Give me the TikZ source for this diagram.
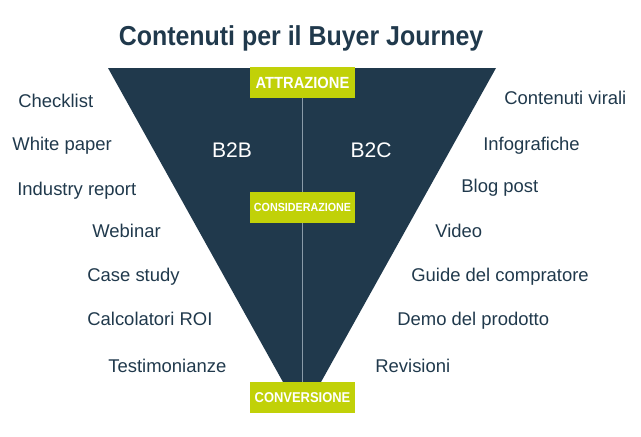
\documentclass[tikz,border=0pt]{standalone}
\usepackage{fontspec}
\setmainfont[BoldFeatures={FakeStretch=0.91}]{Liberation Sans}
\definecolor{funnelblue}{HTML}{20394C}
\definecolor{stagegreen}{HTML}{C1D108}
\definecolor{midline}{HTML}{8A9BA8}
\tikzset{
  stagebox/.style={fill=stagegreen,text=white,font=\bfseries\fontsize{#1}{#1}\selectfont,
    minimum width=2.1cm,minimum height=0.62cm,inner sep=0pt},
  itemtext/.style={text=funnelblue,anchor=base west,inner sep=0pt,font=\fontsize{10.5}{12}\selectfont},
  sidetext/.style={text=white,inner sep=0pt,font=\fontsize{12}{14}\selectfont},
}
\begin{document}
\begin{tikzpicture}[x=0.02cm,y=-0.02cm]
    \useasboundingbox (0,0) rectangle (641,436);
    \fill[funnelblue] (108,68) -- (496,68) -- (311,400) -- (293,400) -- cycle;
    \node[font=\bfseries\fontsize{15.6}{18}\selectfont,text=funnelblue,inner sep=0pt] (title) at (301,38) {Contenuti per il Buyer Journey};
    \node[stagebox=9.2] (attrazione) at (302.5,82.5) {ATTRAZIONE};
    \node[stagebox=6.7] (considerazione) at (302.5,207.5) {CONSIDERAZIONE};
    \node[stagebox=8.1] (conversione) at (302.5,397.5) {CONVERSIONE};
    \draw[midline,line width=0.8pt] (attrazione) -- (considerazione);
    \draw[midline,line width=0.8pt] (considerazione) -- (conversione);
    \node[sidetext] (btob) at (232,150) {B2B};
    \node[sidetext] (btoc) at (371,150) {B2C};
    % left column
    \node[itemtext] (checklist) at (18,107) {Checklist};
    \node[itemtext] (whitepaper) at (12,150) {White paper};
    \node[itemtext] (report) at (17,195) {Industry report};
    \node[itemtext] (webinar) at (92,237) {Webinar};
    \node[itemtext] (casestudy) at (87,281) {Case study};
    \node[itemtext] (roi) at (87,325) {Calcolatori ROI};
    \node[itemtext] (testimonianze) at (108,372) {Testimonianze};
    % right column
    \node[itemtext] (virali) at (504,104) {Contenuti virali};
    \node[itemtext] (infografiche) at (483,150) {Infografiche};
    \node[itemtext] (blog) at (461,192) {Blog post};
    \node[itemtext] (video) at (435,237) {Video};
    \node[itemtext] (guide) at (411,281) {Guide del compratore};
    \node[itemtext] (demo) at (397,325) {Demo del prodotto};
    \node[itemtext] (revisioni) at (375,372) {Revisioni};
\end{tikzpicture}
\end{document}
